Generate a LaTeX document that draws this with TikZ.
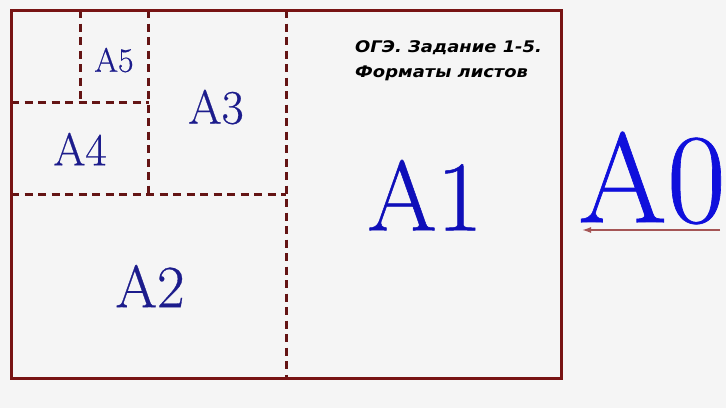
\documentclass[tikz,border=0pt]{standalone}
\usepackage{fontspec}
\newfontfamily\notefont[FakeStretch=1.12]{DejaVu Sans}
\newfontfamily\lblfont[FakeBold=0.5]{Latin Modern Roman}
\usetikzlibrary{arrows.meta}
\definecolor{bg}{RGB}{245,245,245}
\definecolor{frame}{RGB}{120,20,20}
\definecolor{fold}{RGB}{100,20,20}
\definecolor{navy}{RGB}{28,28,140}
\definecolor{midblue}{RGB}{15,15,185}
\definecolor{bright}{RGB}{15,15,220}
\definecolor{arrowc}{RGB}{165,85,85}
\tikzset{
  framebox/.style={draw=frame, line width=3pt},
  foldline/.style={draw=fold, line width=3pt, dash pattern=on 8pt off 5.5pt},
  label/.style={font=\lblfont\fontsize{#1}{#1}\selectfont, inner sep=0pt},
}
\begin{document}
\begin{tikzpicture}[x=1pt,y=-1pt]
\fill[bg] (0,0) rectangle (726,408);
\useasboundingbox (0,0) rectangle (726,408);
% corners
\coordinate (tl) at (11,10);
\coordinate (br) at (561,378);
\coordinate (v1t) at (286,10);
\coordinate (v1b) at (286,378);
\coordinate (h2l) at (11,194);
\coordinate (h2r) at (286,194);
\coordinate (v3t) at (148.5,10);
\coordinate (v3b) at (148.5,194);
\coordinate (h4l) at (11,102);
\coordinate (h4r) at (148.5,102);
\coordinate (v5t) at (80,10);
\coordinate (v5b) at (80,102);
\draw[foldline] (v1t) -- (v1b);
\draw[foldline] (h2l) -- (h2r);
\draw[foldline] (v3t) -- (v3b);
\draw[foldline] (h4l) -- (h4r);
\draw[foldline] (v5t) -- (v5b);
\draw[framebox] (tl) rectangle (br);
% labels
\node[label=34, text=navy] (a5) at (114,60) {A5};
\node[label=46, text=navy] (a4) at (80,149) {A4};
\node[label=48, text=navy] (a3) at (216,107) {A3};
\node[label=60, text=navy] (a2) at (150,286) {A2};
\node[label=100, text=midblue] (a1) at (425,195) {A1};
\node[label=128, text=bright] (a0) at (652,178) {A0};
\coordinate (arrs) at (720,230);
\coordinate (arre) at (582,230);
\draw[arrowc, line width=1.5pt, -{Latex[length=9pt,width=6pt]}] (arrs) -- (arre);
\node[anchor=base west, inner sep=0pt, font=\notefont\bfseries\itshape\fontsize{16}{25}\selectfont, align=left] (note) at (355,77) {ОГЭ. Задание 1-5.\\Форматы листов};
\end{tikzpicture}
\end{document}
